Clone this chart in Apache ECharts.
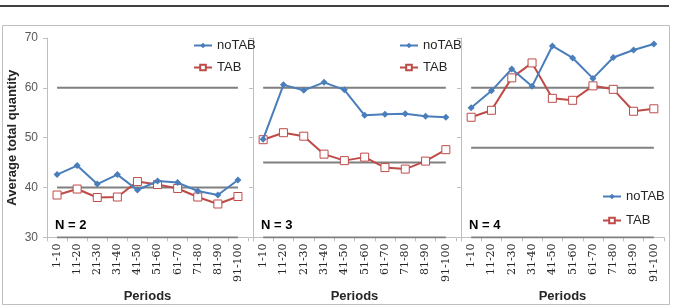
<!DOCTYPE html>
<html>
<head>
<meta charset="utf-8">
<script src="https://cdn.jsdelivr.net/npm/echarts@6/dist/echarts.min.js"></script>
<style>
html,body{margin:0;padding:0;background:#fff;}
#chart{width:675px;height:308px;}
</style>
</head>
<body>
<div id="chart"></div>
<script>
var categories = ['1-10','11-20','21-30','31-40','41-50','51-60','61-70','71-80','81-90','91-100'];
var panelTitles = ['N = 2','N = 3','N = 4'];
var yTicks = {min: 30, max: 70, interval: 10};

var noTAB_N2 = [42.6, 44.4, 40.7, 42.6, 39.5, 41.3, 41.0, 39.3, 38.5, 41.5];
var TAB_N2   = [38.5, 39.7, 38.0, 38.1, 41.2, 40.6, 39.8, 38.1, 36.7, 38.2];
var noTAB_N3 = [49.7, 60.6, 59.5, 61.1, 59.6, 54.5, 54.7, 54.8, 54.3, 54.1];
var TAB_N3   = [49.6, 51.0, 50.3, 46.7, 45.4, 46.1, 44.0, 43.7, 45.3, 47.6];
var noTAB_N4 = [56.0, 59.4, 63.8, 60.3, 68.4, 66.0, 61.9, 66.1, 67.6, 68.8];
var TAB_N4   = [54.1, 55.5, 62.0, 65.0, 57.9, 57.5, 60.4, 59.7, 55.3, 55.8];

var refLines_N2 = [60, 40, 30];
var refLines_N3 = [60, 45, 30];
var refLines_N4 = [60, 48, 30];

var panels = [
  {noTAB: noTAB_N2, TAB: TAB_N2, refs: refLines_N2},
  {noTAB: noTAB_N3, TAB: TAB_N3, refs: refLines_N3},
  {noTAB: noTAB_N4, TAB: TAB_N4, refs: refLines_N4}
];

var gridLefts = [47, 253, 461];
var gridWidths = [201, 203, 203];
var BLUE = '#4A7EBB', RED = '#BE4B48', REF = '#808080', AXIS = '#BFBFBF';
var SANS = 'Liberation Sans, Arial, sans-serif';

var grids = [], xAxes = [], yAxes = [], series = [], titles = [], legends = [];
panels.forEach(function(p, i){
  grids.push({left: gridLefts[i], width: gridWidths[i], top: 38, height: 204});
  xAxes.push({
    type: 'category', gridIndex: i, data: categories, boundaryGap: true,
    axisLine: {show: true, lineStyle: {color: AXIS, width: 1}},
    axisTick: {show: true, length: 4, lineStyle: {color: AXIS}},
    axisLabel: {rotate: 90, fontSize: 11, color: '#262626', fontFamily: 'DejaVu Serif, Liberation Serif, serif', margin: 6, interval: 0},
    splitLine: {show: false},
    name: 'Periods', nameLocation: 'middle', nameGap: 48,
    nameTextStyle: {fontWeight: 'bold', fontSize: 13, color: '#262626', fontFamily: SANS}
  });
  yAxes.push({
    type: 'value', gridIndex: i, min: yTicks.min, max: yTicks.max, interval: yTicks.interval,
    axisLine: {show: true, lineStyle: {color: AXIS, width: 1}},
    axisTick: {show: true, length: 4, lineStyle: {color: AXIS}},
    axisLabel: {show: i === 0, fontSize: 12, color: '#595959', fontFamily: SANS, margin: 9},
    splitLine: {show: false},
    name: i === 0 ? 'Average total quantity' : '', nameLocation: 'middle', nameGap: 28,
    nameTextStyle: {fontWeight: 'bold', fontSize: 13, color: '#262626', fontFamily: SANS}
  });
  p.refs.forEach(function(v){
    series.push({
      type: 'line', xAxisIndex: i, yAxisIndex: i, silent: true, symbol: 'none',
      data: categories.map(function(){ return v; }),
      lineStyle: {color: REF, width: 2}, z: 1
    });
  });
  series.push({
    name: 'noTAB', type: 'line', xAxisIndex: i, yAxisIndex: i, data: p.noTAB,
    symbol: 'diamond', symbolSize: 7, itemStyle: {color: BLUE},
    lineStyle: {color: BLUE, width: 2}, z: 3
  });
  series.push({
    name: 'TAB', type: 'line', xAxisIndex: i, yAxisIndex: i, data: p.TAB,
    symbol: 'rect', symbolSize: 8, itemStyle: {color: '#fff', borderColor: RED, borderWidth: 1},
    lineStyle: {color: RED, width: 2}, z: 2
  });
  titles.push({text: panelTitles[i], left: gridLefts[i] + 3, top: 214,
    textStyle: {fontSize: 13, fontWeight: 'bold', color: '#000', fontFamily: SANS}});
});

var legendCommon = {data: ['noTAB','TAB'], orient: 'vertical', itemGap: 9,
  itemWidth: 18, itemHeight: 7, textStyle: {fontSize: 13, color: '#262626', fontFamily: SANS}};
legends.push(Object.assign({left: 188, top: 34}, legendCommon));
legends.push(Object.assign({left: 394, top: 34}, legendCommon));
legends.push(Object.assign({left: 597, top: 185}, legendCommon, {itemGap: 11}));

var chart = echarts.init(document.getElementById('chart'));
chart.setOption({
  animation: false,
  backgroundColor: '#fff',
  title: titles,
  legend: legends,
  grid: grids,
  xAxis: xAxes,
  yAxis: yAxes,
  series: series,
  graphic: [
    {type: 'line', shape: {x1: 0, y1: 6, x2: 669, y2: 6}, style: {stroke: '#000', lineWidth: 1.5}},
    {type: 'rect', shape: {x: 2.5, y: 25.5, width: 667, height: 279}, style: {fill: 'none', stroke: '#BFBFBF', lineWidth: 1}, z: -1}
  ]
});
</script>
</body>
</html>
